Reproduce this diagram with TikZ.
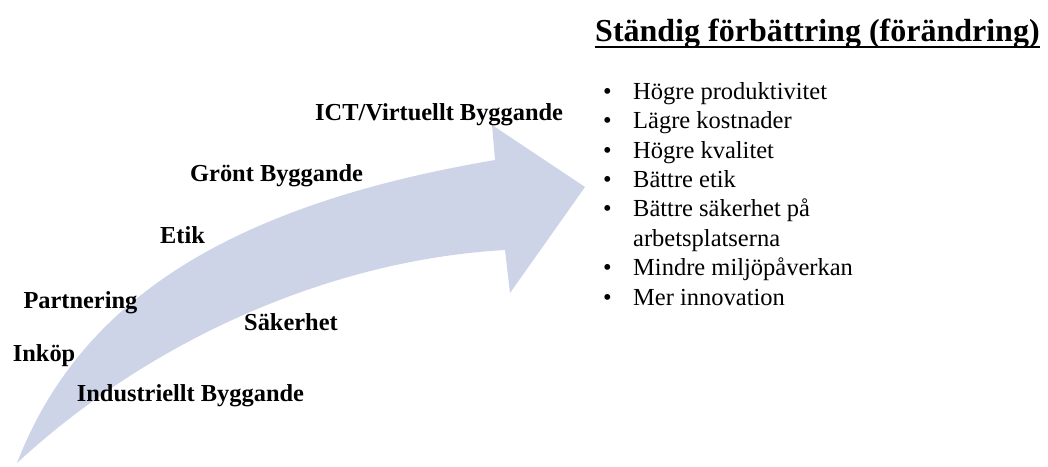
\documentclass[tikz,border=0pt]{standalone}
\usepackage{fontspec}
\setmainfont{Liberation Serif}
\definecolor{arrowfill}{RGB}{206,212,232}
\begin{document}
\begin{tikzpicture}[x=1pt,y=-1pt,
  tag/.style={anchor=base west, inner sep=0pt, font=\fontsize{24.4}{29}\selectfont\bfseries},
  listitem/.style={anchor=base west, inner sep=0pt, font=\fontsize{24.5}{29}\selectfont},
  heading/.style={anchor=base west, inner sep=0pt, font=\fontsize{32}{38}\selectfont\bfseries}]
\useasboundingbox (0,0) rectangle (1048,466);

% curved block arrow
\fill[arrowfill] (17,463) .. controls (80,300) and (230,205) .. (495,160)
  -- (492,125) -- (585,187) -- (510,293) -- (505,250)
  .. controls (330,260) and (150,340) .. (17,463) -- cycle;

% labels along the arrow
\node[tag] (ict) at (315,120.7) {ICT/Virtuellt Byggande};
\node[tag] (gront) at (190,181) {Grönt Byggande};
\node[tag] (etik) at (160,243) {Etik};
\node[tag] (partnering) at (23.3,308.3) {Partnering};
\node[tag] (sakerhet) at (244,330) {Säkerhet};
\node[tag] (inkop) at (12.7,361) {Inköp};
\node[tag] (industriellt) at (76.7,401.7) {Industriellt Byggande};

% heading with underline
\node[heading] (title) at (595,41.7) {Ständig förbättring (förändring)};
\draw[line width=2pt] ([yshift=-5pt]title.base west) -- ([yshift=-5pt]title.base east);

% bullet list
\newcommand{\bul}{\llap{\makebox[30pt][l]{•}}}
\node[listitem] (b1) at (633,99.3) {\bul Högre produktivitet};
\node[listitem] (b2) at (633,128.7) {\bul Lägre kostnader};
\node[listitem] (b3) at (633,158.1) {\bul Högre kvalitet};
\node[listitem] (b4) at (633,187.5) {\bul Bättre etik};
\node[listitem] (b5) at (633,216.9) {\bul Bättre säkerhet på};
\node[listitem] (b5b) at (633,246.3) {arbetsplatserna};
\node[listitem] (b6) at (633,275.7) {\bul Mindre miljöpåverkan};
\node[listitem] (b7) at (633,305.1) {\bul Mer innovation};
\end{tikzpicture}
\end{document}
